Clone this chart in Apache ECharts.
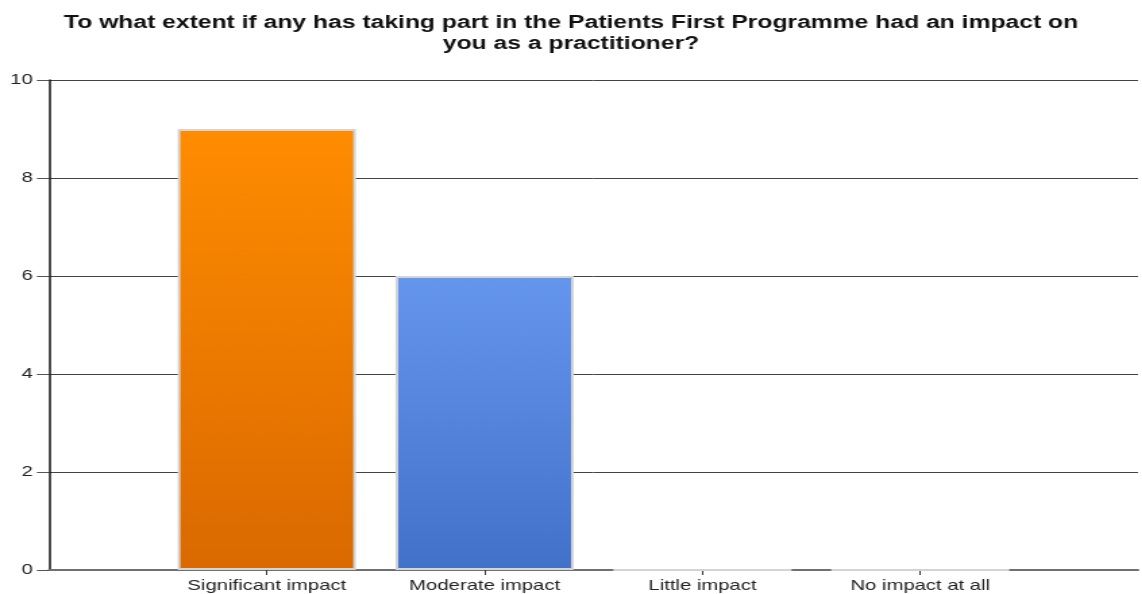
<!DOCTYPE html>
<html>
<head>
<meta charset="utf-8">
<script src="https://cdn.jsdelivr.net/npm/echarts@6/dist/echarts.min.js"></script>
<style>
  html, body { margin: 0; padding: 0; background: #fff; overflow: hidden; }
  /* the chart is laid out narrower and widened horizontally */
  #chart { width: 846px; height: 594px; transform: scaleX(1.35); transform-origin: 0 0; }
</style>
</head>
<body>
<div id="chart"></div>
<script>
// Survey responses
const titleText = 'To what extent if any has taking part in the Patients First Programme had an impact on\nyou as a practitioner?';
const categories = ['Significant impact', 'Moderate impact', 'Little impact', 'No impact at all'];
const counts = [9, 6, 0, 0];
const yTicks = { min: 0, max: 10, interval: 2 };

// fill gradients (top, bottom) for each bar
const barGradients = [
  ['#FF8C00', '#DA6900'],
  ['#6596EE', '#4271C9'],
  ['#FF8C00', '#DA6900'],
  ['#6596EE', '#4271C9']
];

// empty slots at both ends leave room around the four response bars
const axisCats = [''].concat(categories, ['']);
const seriesData = ['-'].concat(counts.map((v, i) => ({
  value: v,
  itemStyle: {
    color: new echarts.graphic.LinearGradient(0, 0, 0, 1, [
      { offset: 0, color: barGradients[i][0] },
      { offset: 1, color: barGradients[i][1] }
    ])
  }
})), ['-']);

const chart = echarts.init(document.getElementById('chart'), null, { renderer: 'canvas' });
chart.setOption({
  animation: false,
  title: {
    text: titleText,
    left: 'center',
    top: 7,
    textStyle: {
      fontFamily: 'Liberation Sans',
      fontSize: 18.3,
      fontWeight: 'bold',
      color: '#111',
      lineHeight: 21
    }
  },
  grid: { left: 36.3, right: -1.5, top: 80, bottom: 24, containLabel: false },
  xAxis: {
    type: 'category',
    data: axisCats,
    boundaryGap: false,
    axisLine: { lineStyle: { color: '#707070', width: 2 } },
    axisTick: {
      length: 5,
      interval: (i) => i > 0 && i < axisCats.length - 1,
      lineStyle: { color: '#333' }
    },
    axisLabel: {
      interval: 0,
      margin: 8,
      fontFamily: 'Liberation Sans',
      fontSize: 15,
      color: '#222'
    },
    splitLine: { show: false }
  },
  yAxis: {
    type: 'value',
    min: yTicks.min,
    max: yTicks.max,
    interval: yTicks.interval,
    axisLine: { show: true, lineStyle: { color: '#111', width: 1.5 } },
    axisTick: { show: true, length: 9, lineStyle: { color: '#555' } },
    axisLabel: {
      margin: 12,
      fontFamily: 'Liberation Sans',
      fontSize: 15,
      color: '#222'
    },
    splitLine: { show: true, lineStyle: { color: '#444', width: 1 } }
  },
  series: [{
    type: 'bar',
    data: seriesData,
    barWidth: 132,
    itemStyle: { borderColor: '#d4d4d4', borderWidth: 2 }
  }]
});
</script>
</body>
</html>
